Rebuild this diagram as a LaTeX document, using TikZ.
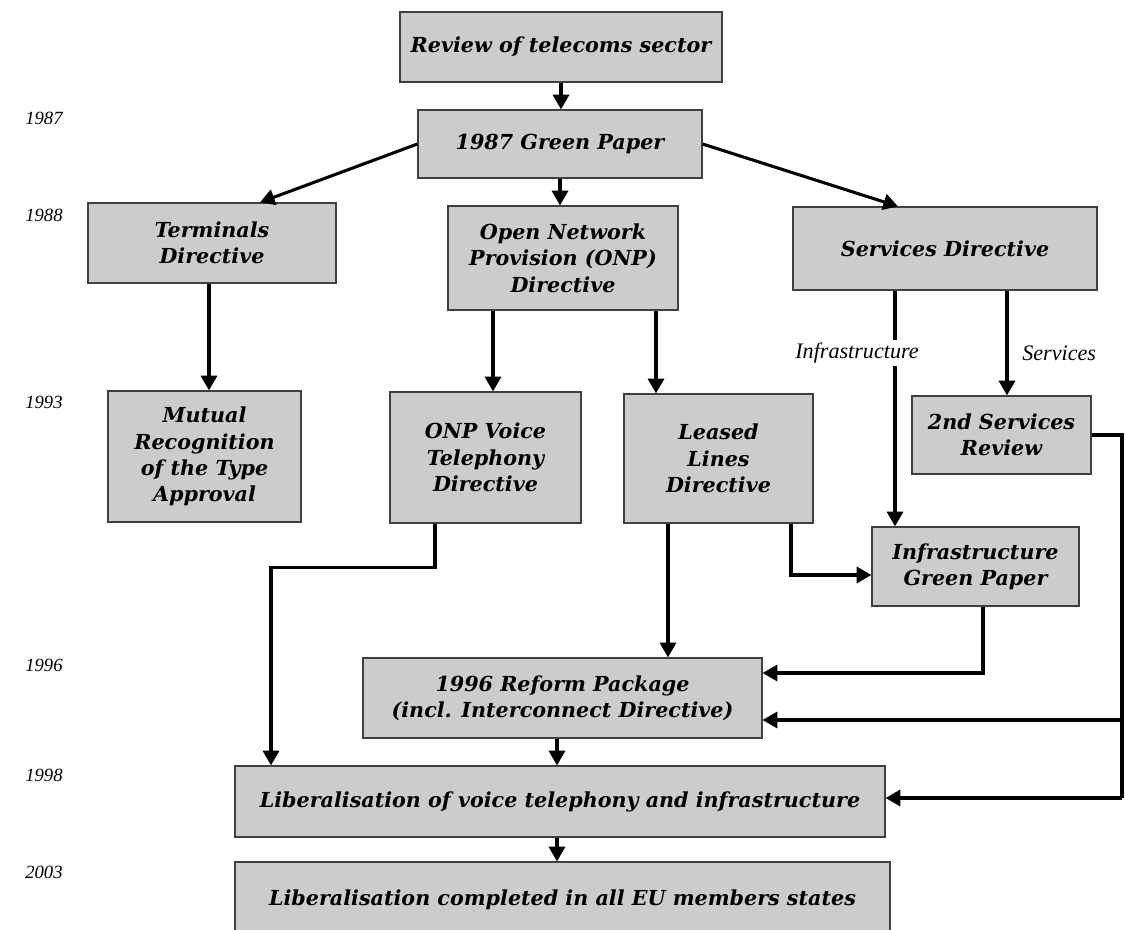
\documentclass[tikz,border=0pt]{standalone}
\usepackage{fontspec}
\setmainfont{Liberation Serif}
\newfontfamily\bkfam{DejaVu Serif}
\usetikzlibrary{arrows.meta}
\newcommand\bkfont{\bkfam\bfseries\itshape\fontsize{15.5}{19.8}\selectfont}
\newcommand\yrfont{\itshape\fontsize{14}{16}\selectfont}
\newcommand\lbfont{\itshape\fontsize{16.6}{18}\selectfont}
\tikzset{
  box/.style={draw=black!75, line width=0.9pt, fill=black!20, inner sep=0pt, align=center, font=\bkfont},
  sz/.style 2 args={minimum width={#1*0.75pt}, minimum height={#2*0.75pt}},
  arr/.style={line width=2.3pt, -{Triangle[length=11pt,width=12pt]}},
  ln/.style={line width=2.3pt},
  yr/.style={anchor=west, font=\yrfont, inner sep=0pt},
  lbl/.style={font=\lbfont, fill=white, inner sep=2pt}
}
\begin{document}
\begin{tikzpicture}[x=0.75pt,y=-0.75pt]
\useasboundingbox (0,0) rectangle (1125,930);
% years
\node[yr] (y1) at (25,118) {1987};
\node[yr] (y2) at (25,215) {1988};
\node[yr] (y3) at (25,402) {1993};
\node[yr] (y4) at (25,665) {1996};
\node[yr] (y5) at (25,775) {1998};
\node[yr] (y6) at (25,872) {2003};
% boxes
\node[box, sz={322}{70}] (rev) at (561,47) {Review of telecoms sector};
\node[box, sz={284}{68}] (gp) at (560,144) {1987 Green Paper};
\node[box, sz={248}{80}] (term) at (212,243) {Terminals\\Directive};
\node[box, sz={230}{104}] (onp) at (563,258) {Open Network\\Provision (ONP)\\Directive};
\node[box, sz={304}{83}] (serv) at (945,248.5) {Services Directive};
\node[box, sz={193}{131}] (mut) at (204.5,456.5) {Mutual\\Recognition\\of the Type\\Approval};
\node[box, sz={191}{131}] (voice) at (485.5,457.5) {ONP Voice\\Telephony\\Directive};
\node[box, sz={189}{129}] (leased) at (718.5,458.5) {Leased\\Lines\\Directive};
\node[box, sz={179}{78}] (svc2) at (1001.5,435) {2nd Services\\Review};
\node[box, sz={207}{79}] (igp) at (975.5,566.5) {Infrastructure\\Green Paper};
\node[box, sz={399}{80}] (reform) at (562.5,698) {1996 Reform Package\\(incl. Interconnect Directive)};
\node[box, sz={650}{71}] (lib) at (560,801.5) {Liberalisation of voice telephony and infrastructure};
\node[box, sz={655}{76}] (done) at (562.5,900) {Liberalisation completed in all EU members states};
% connectors
\draw[arr] (rev.south) -- (rev.south |- gp.north);
\draw[arr] (gp.west) -- (term.north -| 260,0);
\draw[arr] (gp.south) -- (gp.south |- onp.north);
\draw[arr] (gp.east) -- (serv.north -| 898,0);
\draw[arr] (term.south -| 209,0) -- (mut.north -| 209,0);
\draw[arr] (onp.south -| 493,0) -- (voice.north -| 493,0);
\draw[arr] (onp.south -| 656,0) -- (leased.north -| 656,0);
\draw[arr] (serv.south -| 895,0) -- (igp.north -| 895,0);
\node[lbl] (linfra) at (857,353) {Infrastructure};
\draw[arr] (serv.south -| 1007,0) -- (svc2.north -| 1007,0);
\node[font=\lbfont, anchor=west, inner sep=0pt] (lserv) at (1022,353) {Services};
\draw[arr] (voice.south -| 435,0) -- ++(0,44) -| (lib.north -| 271,0);
\draw[arr] (leased.south -| 668,0) -- (reform.north -| 668,0);
\draw[arr] (leased.south -| 791,0) |- (igp.west |- 0,575);
\draw[arr] (igp.south -| 983,0) |- (reform.east |- 0,673);
\coordinate (r1) at (1122,435);
\coordinate (r2) at (1122,720);
\coordinate (r3) at (1122,798);
\draw[ln] (svc2.east) -- (r1) -- (r3);
\draw[arr] (r2) -- (reform.east |- r2);
\draw[arr] (r3) -- (lib.east |- r3);
\draw[arr] (reform.south -| 557,0) -- (lib.north -| 557,0);
\draw[arr] (lib.south -| 557,0) -- (done.north -| 557,0);
\end{tikzpicture}
\end{document}
